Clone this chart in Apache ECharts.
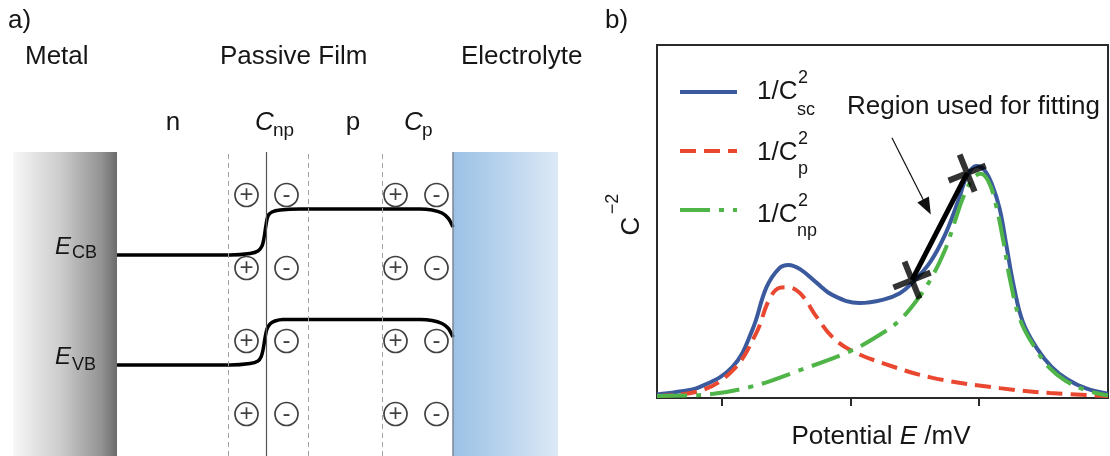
<!DOCTYPE html>
<html><head><meta charset="utf-8">
<script src="https://cdn.jsdelivr.net/npm/echarts@6/dist/echarts.min.js"></script>
<style>html,body{margin:0;padding:0;background:#fff}#c{width:1110px;height:456px}</style>
</head><body><div id="c"></div>
<script>
// ---------------- Panel a: band diagram (x = position, y = energy) ----------------
const metalRange = [0, 2.08];
const electrolyteRange = [8.8, 10.9];
const dashedX = [4.3, 5.9, 7.38];
const junctionX = [5.07];
const cbX = [2.08, 4.34, 4.74, 4.90, 4.98, 5.02, 5.06, 5.10, 5.18, 5.34, 5.74, 8.14, 8.38, 8.58, 8.70, 8.76, 8.80];
const cbY = [20.1, 20.1, 20.25, 20.5, 21.0, 21.8, 23.1, 24.0, 24.4, 24.6, 24.7, 24.7, 24.6, 24.3, 23.8, 23.3, 22.9];
const vbX = [2.08, 4.34, 4.74, 4.90, 4.96, 5.00, 5.04, 5.08, 5.14, 5.24, 5.40, 8.14, 8.38, 8.58, 8.70, 8.76, 8.80];
const vbY = [9.1, 9.1, 9.25, 9.5, 9.9, 10.6, 11.8, 12.7, 13.2, 13.5, 13.65, 13.65, 13.55, 13.25, 12.8, 12.3, 11.9];
const plusX = [4.67, 7.65];
const minusX = [5.47, 8.47];
const chargeRowsY = [26.1, 18.8, 11.5, 4.2];

// ---------------- Panel b: C^-2 vs potential ----------------
const scX = [-0.5, -0.35, -0.17, 0.086, 0.24, 0.35, 0.45, 0.52, 0.61, 0.74, 0.86, 1.07, 1.25, 1.385, 1.48, 1.62, 1.735, 1.84, 1.91, 1.98, 2.04, 2.10, 2.16, 2.21, 2.27, 2.34, 2.45, 2.56, 2.68, 2.83, 3.0];
const scY = [1.0, 1.7, 3.1, 8.8, 19.3, 31.4, 36.8, 37.7, 36.5, 32.6, 29.2, 26.9, 27.8, 29.7, 32.6, 38.5, 46.2, 56.1, 63.2, 65.7, 64.6, 60.5, 53.5, 43.5, 31.5, 21.5, 14.0, 8.9, 5.4, 2.7, 1.2];
const pX = [-0.5, -0.17, 0.09, 0.27, 0.37, 0.45, 0.51, 0.61, 0.74, 0.86, 1.0, 1.25, 1.64, 2.16, 2.55, 3.0];
const pY = [0.6, 2.0, 7.9, 18.4, 27.8, 31.2, 31.4, 29.7, 22.9, 17.3, 13.6, 9.9, 5.7, 2.8, 1.4, 0.6];
const npX = [-0.5, -0.17, 0.22, 0.61, 1.0, 1.25, 1.385, 1.50, 1.62, 1.735, 1.81, 1.875, 1.945, 2.01, 2.07, 2.125, 2.19, 2.24, 2.32, 2.44, 2.55, 2.67, 2.82, 3.0];
const npY = [0.6, 0.85, 3.1, 7.9, 13.3, 18.4, 22.1, 26.9, 33.4, 41.9, 49.9, 56.7, 61.8, 63.5, 61.5, 55.5, 44.0, 33.5, 22.0, 13.8, 8.4, 4.9, 2.3, 0.7];
const fitX = [1.479, 1.907];
const fitY = [33.4, 63.7];
const arrowX = [1.323, 1.595];
const arrowY = [73.7, 54.1];
const xTicks = [0, 1, 2];
const seriesNames = ['sc', 'p', 'np'];

const zip = (xs, ys) => xs.map((x, i) => [x, ys[i]]);
const FONT = '"Liberation Sans", Arial, Helvetica, sans-serif';
const INK = '#161616';
function T(text, x, y, size, o) {
  o = o || {};
  return {
    type: 'text', x: x, y: y, silent: true, z: 100, rotation: o.rot || 0,
    style: {
      text: text, fill: INK,
      font: (o.italic ? 'italic ' : '') + size + 'px ' + FONT,
      align: o.align || 'left', verticalAlign: 'middle'
    }
  };
}

const chargeData = (xs) => {
  const out = [];
  xs.forEach(x => chargeRowsY.forEach(y => out.push([x, y])));
  return out;
};
const chargeSeries = (xs, sign) => ({
  type: 'scatter', xAxisIndex: 0, yAxisIndex: 0, z: 5,
  data: chargeData(xs), symbol: 'circle', symbolSize: 23,
  itemStyle: { color: '#fff', borderColor: '#111', borderWidth: 1.7 },
  label: { show: true, position: 'inside', formatter: sign, color: '#111', fontSize: 24, fontFamily: FONT },
  emphasis: { disabled: true }, silent: true
});

const texts = [
  T('a)', 8, 21, 26), T('b)', 605, 21, 26),
  T('Metal', 25, 57, 26), T('Passive Film', 220, 57, 26), T('Electrolyte', 461, 57, 26),
  T('n', 173, 123, 26, { align: 'center' }),
  T('C', 255, 123, 26, { italic: true }), T('np', 273, 131, 19),
  T('p', 353, 123, 26, { align: 'center' }),
  T('C', 404, 123, 26, { italic: true }), T('p', 422, 131, 19),
  T('E', 55, 247, 24, { italic: true }), T('CB', 72, 253, 18),
  T('E', 55, 357, 24, { italic: true }), T('VB', 72, 365, 18),
  // legend labels
  T('1/C', 757, 92, 26), T('2', 798, 78, 18), T('sc', 797, 110, 18),
  T('1/C', 757, 153, 26), T('2', 798, 139, 18), T('p', 798, 169, 18),
  T('1/C', 757, 215, 26), T('2', 798, 201, 18), T('np', 797, 231, 18),
  T('Region used for fitting', 847, 107, 26),
  T('C', 632, 226, 26, { rot: Math.PI / 2, align: 'center' }),
  T('\u22122', 613, 204, 18, { rot: Math.PI / 2, align: 'center' }),
  {
    type: 'text', x: 881, y: 437, silent: true, z: 100,
    style: {
      text: '{a|Potential }{b|E}{a| /mV}', align: 'center', verticalAlign: 'middle',
      rich: {
        a: { fontSize: 26, fontFamily: FONT, fill: INK },
        b: { fontSize: 26, fontFamily: FONT, fontStyle: 'italic', fill: INK }
      }
    }
  }
];

const crossPath = 'path://M17,0H23V17H40V23H23V40H17V23H0V17H17Z';

const option = {
  animation: false,
  backgroundColor: '#fff',
  grid: [
    { left: 13, top: 152, width: 545, height: 304, show: false },
    { left: 657, top: 45, width: 451, height: 353, show: true, borderColor: '#2a2a2a', borderWidth: 2 }
  ],
  xAxis: [
    { gridIndex: 0, type: 'value', min: 0, max: 10.9, show: false },
    {
      gridIndex: 1, type: 'value', min: -0.5, max: 3,
      axisLine: { show: false }, splitLine: { show: false }, axisLabel: { show: false },
      axisTick: { show: true, customValues: xTicks, length: 8, inside: false, lineStyle: { color: '#2a2a2a', width: 2 } }
    }
  ],
  yAxis: [
    { gridIndex: 0, type: 'value', min: 0, max: 30.4, show: false },
    {
      gridIndex: 1, type: 'value', min: 0, max: 100,
      axisLine: { show: false }, splitLine: { show: false }, axisLabel: { show: false }, axisTick: { show: false }
    }
  ],
  legend: {
    show: true, orient: 'vertical', left: 678, top: 82, padding: 0,
    itemWidth: 57, itemHeight: 20, itemGap: 41, selectedMode: false,
    data: seriesNames, formatter: () => '', textStyle: { fontSize: 10 },
    itemStyle: { opacity: 0, borderWidth: 0 },
    lineStyle: { width: 4 }
  },
  graphic: { elements: texts },
  series: [
    {
      type: 'line', xAxisIndex: 0, yAxisIndex: 0, z: 3,
      data: zip(cbX, cbY), smooth: 0.35, symbol: 'none',
      lineStyle: { color: '#000', width: 3.5 }, silent: true,
      markArea: {
        silent: true,
        data: [
          [{ xAxis: metalRange[0], itemStyle: { color: { type: 'linear', x: 0, y: 0, x2: 1, y2: 0,
              colorStops: [{ offset: 0, color: '#f7f7f7' }, { offset: 0.45, color: '#cdcdcd' }, { offset: 0.85, color: '#939393' }, { offset: 1, color: '#6b6b6b' }] } } },
           { xAxis: metalRange[1] }],
          [{ xAxis: electrolyteRange[0], itemStyle: { color: { type: 'linear', x: 0, y: 0, x2: 1, y2: 0,
              colorStops: [{ offset: 0, color: '#9bc1e5' }, { offset: 0.5, color: '#bad4ee' }, { offset: 1, color: '#dde9f6' }] } } },
           { xAxis: electrolyteRange[1] }]
        ]
      },
      markLine: {
        silent: true, symbol: 'none', label: { show: false },
        data: dashedX.map(x => ({ xAxis: x, lineStyle: { color: '#a0a0a0', width: 1, type: [5, 4] } }))
          .concat(junctionX.map(x => ({ xAxis: x, lineStyle: { color: '#555', width: 1.2, type: 'solid' } })))
          .concat([{ xAxis: electrolyteRange[0], lineStyle: { color: '#7b8794', width: 1.5, type: 'solid' } }])
      }
    },
    {
      type: 'line', xAxisIndex: 0, yAxisIndex: 0, z: 3,
      data: zip(vbX, vbY), smooth: 0.35, symbol: 'none',
      lineStyle: { color: '#000', width: 3.5 }, silent: true
    },
    chargeSeries(plusX, '+'),
    chargeSeries(minusX, '-'),
    {
      name: 'sc', type: 'line', xAxisIndex: 1, yAxisIndex: 1, z: 2,
      data: zip(scX, scY), smooth: 0.4, symbol: 'none',
      lineStyle: { color: '#3b5a9d', width: 4 }, itemStyle: { color: '#3b5a9d' }
    },
    {
      name: 'p', type: 'line', xAxisIndex: 1, yAxisIndex: 1, z: 3,
      data: zip(pX, pY), smooth: 0.4, symbol: 'none',
      lineStyle: { color: '#e9472f', width: 4, type: [16, 8] }, itemStyle: { color: '#e9472f' }
    },
    {
      name: 'np', type: 'line', xAxisIndex: 1, yAxisIndex: 1, z: 4,
      data: zip(npX, npY), smooth: 0.4, symbol: 'none',
      lineStyle: { color: '#50b548', width: 4, type: [30, 9, 5, 9] }, itemStyle: { color: '#50b548' }
    },
    {
      type: 'line', xAxisIndex: 1, yAxisIndex: 1, z: 6,
      data: zip(fitX, fitY), symbol: 'none',
      lineStyle: { color: '#000', width: 5 }, silent: true,
      markLine: {
        silent: true, symbol: ['none', 'triangle'], symbolSize: [13, 17], label: { show: false },
        lineStyle: { color: '#111', width: 1.2, type: 'solid' },
        data: [[{ coord: [arrowX[0], arrowY[0]] }, { coord: [arrowX[1], arrowY[1]] }]]
      }
    },
    {
      type: 'scatter', xAxisIndex: 1, yAxisIndex: 1, z: 7,
      data: zip(fitX, fitY), symbol: crossPath, symbolSize: 40, symbolRotate: 22,
      itemStyle: { color: '#000' }, silent: true
    }
  ]
};
echarts.init(document.getElementById('c'), null, { renderer: 'canvas' }).setOption(option);
</script></body></html>
